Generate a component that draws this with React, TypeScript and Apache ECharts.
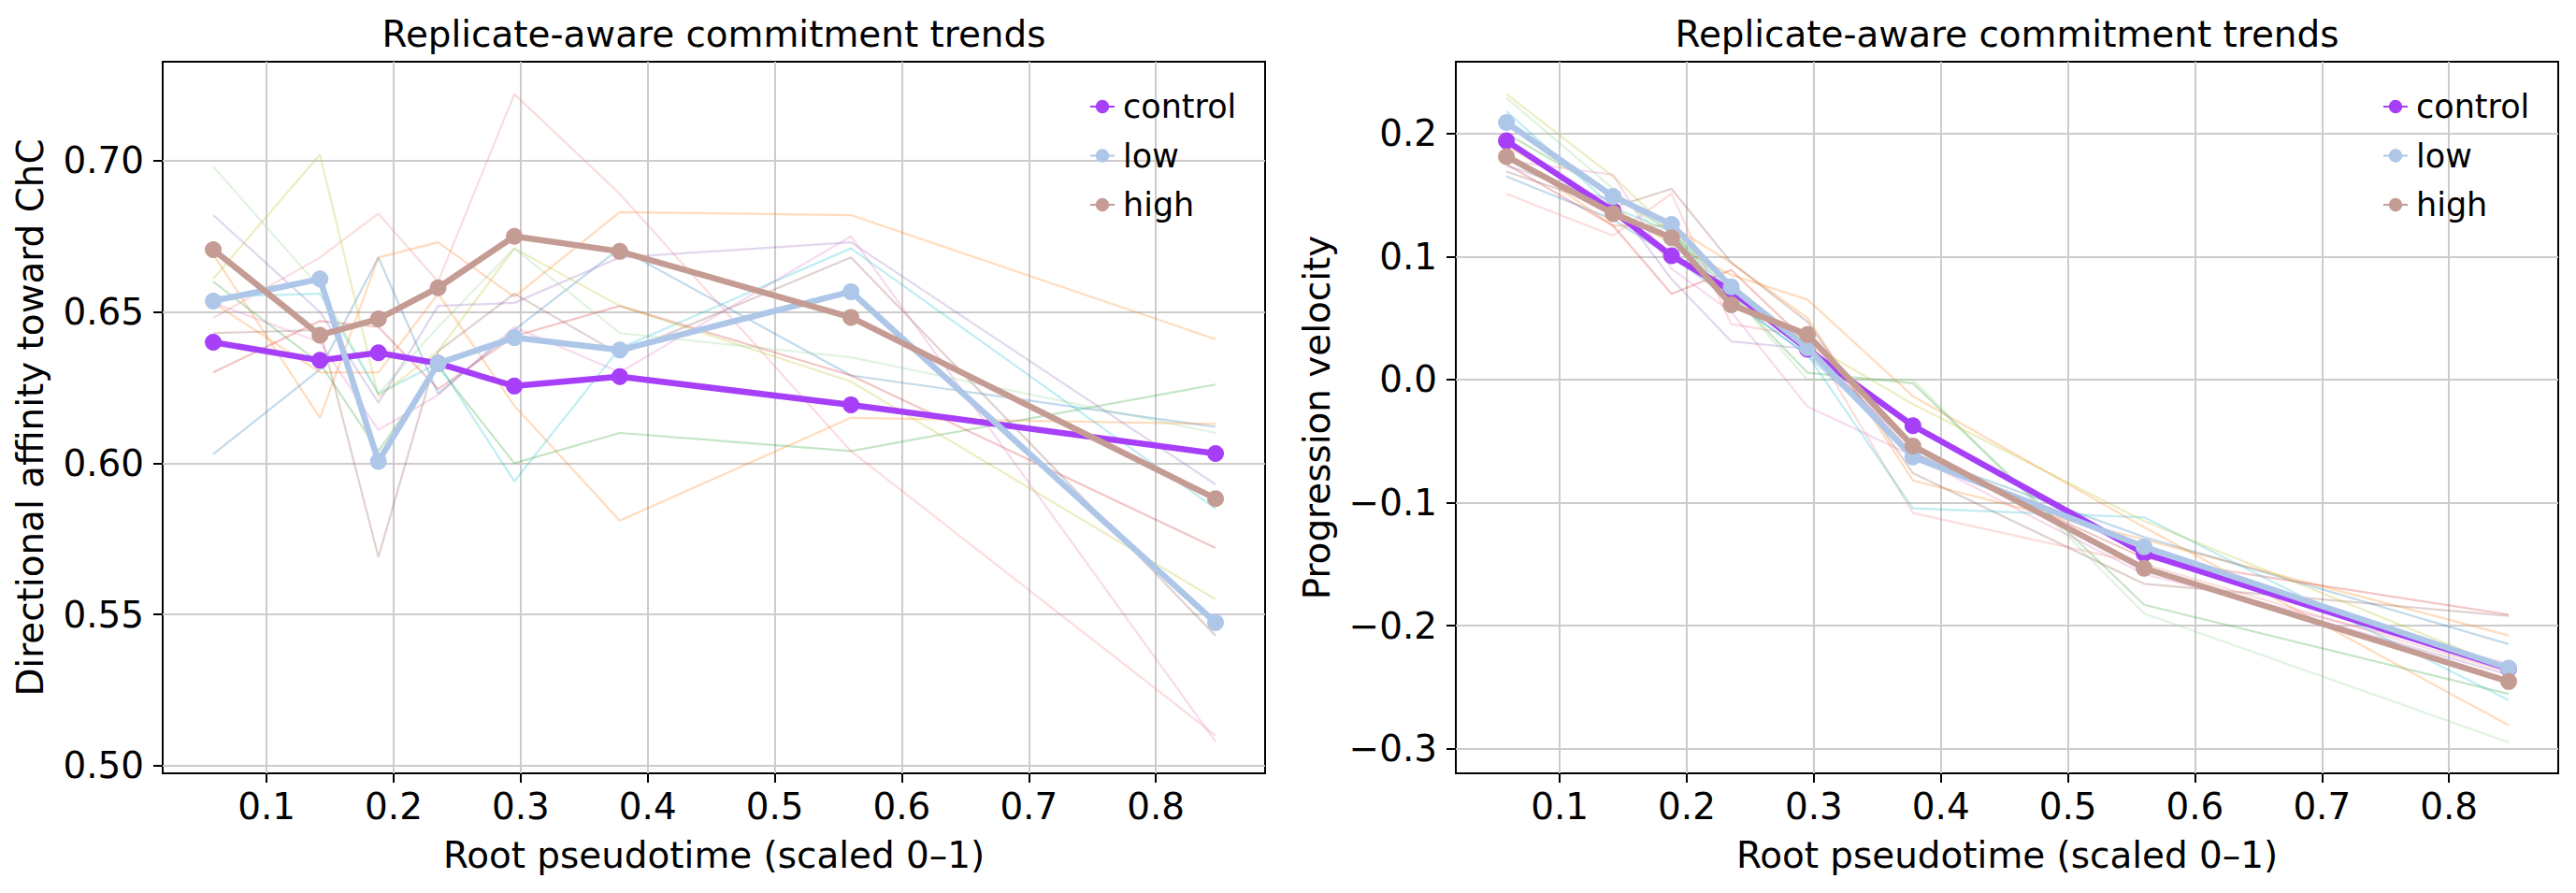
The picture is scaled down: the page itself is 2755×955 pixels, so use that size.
import React, { useEffect, useRef } from "react";
import * as echarts from "echarts";

// ---------- data ----------
const pseudotime = [0.058, 0.142, 0.188, 0.235, 0.295, 0.378, 0.56, 0.847];
const conditions = ["control", "low", "high"];
const conditionColors = ["#a63ff7", "#aec7e8", "#c49c94"];

// Directional affinity toward ChC (condition means)
const affinityControl = [0.64, 0.634, 0.6365, 0.633, 0.6255, 0.6286, 0.6193, 0.6032];
const affinityLow = [0.6536, 0.6609, 0.6006, 0.633, 0.6415, 0.6374, 0.6567, 0.5473];
const affinityHigh = [0.6706, 0.6423, 0.6477, 0.658, 0.675, 0.67, 0.6482, 0.5883];

// Progression velocity (condition means)
const velocityControl = [0.194, 0.137, 0.1006, 0.072, 0.0246, -0.0375, -0.1414, -0.235];
const velocityLow = [0.2089, 0.1488, 0.126, 0.0753, 0.0258, -0.0629, -0.1359, -0.2345];
const velocityHigh = [0.1812, 0.1349, 0.1153, 0.0608, 0.0365, -0.054, -0.1534, -0.2454];

// replicate traces (thin, faint)
const replicateColors = [
  "#1f77b4", "#ff7f0e", "#ff7f0e", "#2ca02c", "#d62728", "#9467bd",
  "#8c564b", "#e377c2", "#f08080", "#17becf", "#bcbd22", "#8fd18f",
];
const affinityReplicates = [
  [0.603, 0.631, 0.668, 0.623, 0.644, 0.671, 0.629, 0.612],
  [0.669, 0.615, 0.668, 0.673, 0.655, 0.683, 0.682, 0.641],
  [0.653, 0.63, 0.63, 0.656, 0.619, 0.581, 0.615, 0.613],
  [0.66, 0.633, 0.604, 0.632, 0.6, 0.61, 0.604, 0.626],
  [0.63, 0.647, 0.645, 0.6245, 0.642, 0.652, 0.629, 0.572],
  [0.682, 0.65, 0.62, 0.652, 0.653, 0.668, 0.673, 0.593],
  [0.643, 0.644, 0.569, 0.637, 0.656, 0.636, 0.668, 0.543],
  [0.653, 0.64, 0.611, 0.6225, 0.645, 0.63, 0.675, 0.508],
  [0.648, 0.668, 0.6825, 0.66, 0.722, 0.689, 0.604, 0.51],
  [0.655, 0.656, 0.623, 0.633, 0.594, 0.638, 0.671, 0.585],
  [0.661, 0.702, 0.622, 0.637, 0.671, 0.652, 0.627, 0.555],
  [0.698, 0.658, 0.623, 0.645, 0.671, 0.643, 0.635, 0.61],
];
const velocityReplicates = [
  [0.165, 0.13, 0.1, 0.065, 0.02, -0.06, -0.128, -0.215],
  [0.19, 0.14, 0.11, 0.085, 0.065, -0.0135, -0.12, -0.281],
  [0.185, 0.125, 0.125, 0.095, 0.05, -0.082, -0.13, -0.208],
  [0.2, 0.15, 0.12, 0.07, 0.0056, -0.003, -0.183, -0.2555],
  [0.175, 0.125, 0.0697, 0.089, 0.03, -0.06, -0.145, -0.191],
  [0.174, 0.145, 0.0816, 0.031, 0.025, -0.055, -0.155, -0.24],
  [0.169, 0.14, 0.155, 0.095, 0.047, -0.076, -0.166, -0.192],
  [0.178, 0.1665, 0.09, 0.055, -0.022, -0.062, -0.158, -0.231],
  [0.151, 0.117, 0.151, 0.045, 0.035, -0.1085, -0.15, -0.238],
  [0.218, 0.14, 0.12, 0.065, 0.02, -0.1047, -0.112, -0.2606],
  [0.232, 0.165, 0.12, 0.075, 0.03, -0.02, -0.115, -0.235],
  [0.229, 0.155, 0.11, 0.07, 0.0, 0.0, -0.19, -0.2948],
];

const xTicks = [0.1, 0.2, 0.3, 0.4, 0.5, 0.6, 0.7, 0.8];
const affinityTicks = [0.5, 0.55, 0.6, 0.65, 0.7];
const velocityTicks = [-0.3, -0.2, -0.1, 0.0, 0.1, 0.2];

const chartTitle = "Replicate-aware commitment trends";
const xName = "Root pseudotime (scaled 0–1)";
const yNameLeft = "Directional affinity toward ChC";
const yNameRight = "Progression velocity";

// ---------- layout ----------
const W = 2755;
const H = 955;
const FONT = "DejaVu Sans";
const FS = 38.9;
const gridTop = 66;
const gridH = 761;
const gridW = 1179;
const leftX = 174;
const rightX = 1557;

const pairs = (ys: number[]) => pseudotime.map((x, i) => [x, ys[i]]);
const minus = (s: string) => s.replace("-", "\u2212");

function makeXAxis(gridIndex: number) {
  return {
    type: "value",
    gridIndex,
    position: "bottom",
    min: 0.0182,
    max: 0.886,
    axisLine: { show: false, onZero: false },
    axisTick: {
      show: true,
      inside: false,
      length: 10,
      lineStyle: { color: "#000", width: 2 },
      customValues: xTicks,
    },
    axisLabel: {
      show: true,
      margin: 16,
      color: "#000",
      fontFamily: FONT,
      fontSize: FS,
      customValues: xTicks,
      formatter: (v: number) => v.toFixed(1),
    },
    splitLine: { show: true, lineStyle: { color: "#cccccc", width: 2 } },
  };
}

function makeYAxis(gridIndex: number, min: number, max: number, ticks: number[], digits: number) {
  return {
    type: "value",
    gridIndex,
    position: "left",
    min,
    max,
    axisLine: { show: false, onZero: false },
    axisTick: {
      show: true,
      inside: false,
      length: 10,
      lineStyle: { color: "#000", width: 2 },
      customValues: ticks,
    },
    axisLabel: {
      show: true,
      margin: 20,
      color: "#000",
      fontFamily: FONT,
      fontSize: FS,
      customValues: ticks,
      formatter: (v: number) => minus(v.toFixed(digits)),
    },
    splitLine: { show: true, lineStyle: { color: "#cccccc", width: 2 } },
  };
}

function replicateSeries(reps: number[][], axisIndex: number) {
  return reps.map((ys, i) => ({
    type: "line",
    name: "rep" + (i + 1) + "_" + axisIndex,
    xAxisIndex: axisIndex,
    yAxisIndex: axisIndex,
    data: pairs(ys),
    showSymbol: false,
    symbol: "none",
    silent: true,
    z: 2,
    lineStyle: { color: replicateColors[i], width: 2.2, opacity: 0.27 },
  }));
}

function meanSeries(means: number[][], axisIndex: number) {
  return means.map((ys, i) => ({
    type: "line",
    name: conditions[i],
    xAxisIndex: axisIndex,
    yAxisIndex: axisIndex,
    data: pairs(ys),
    symbol: "circle",
    symbolSize: 18,
    showSymbol: true,
    z: 5 + i,
    itemStyle: { color: conditionColors[i], borderWidth: 0 },
    lineStyle: { color: conditionColors[i], width: 6.5 },
  }));
}

function makeLegend(left: number) {
  return {
    show: true,
    orient: "vertical",
    left,
    top: 91,
    data: conditions,
    itemWidth: 26,
    itemHeight: 18,
    itemGap: 16.5,
    selectedMode: false,
    textStyle: { color: "#000", fontFamily: FONT, fontSize: 35, lineHeight: 36, padding: [0, 0, 0, 4] },
  };
}

function textEl(text: string, x: number, y: number, rotation = 0) {
  return {
    type: "text",
    x,
    y,
    rotation,
    silent: true,
    style: {
      text,
      fill: "#000",
      fontFamily: FONT,
      fontSize: FS,
      align: "center",
      verticalAlign: "middle",
    },
  };
}

export default function App() {
  const ref = useRef<HTMLDivElement>(null);

  useEffect(() => {
    if (!ref.current) return;
    const chart = echarts.init(ref.current, undefined, { renderer: "svg", width: W, height: H });
    const option = {
      animation: false,
      backgroundColor: "#ffffff",
      grid: [
        { left: leftX, top: gridTop, width: gridW, height: gridH, show: true, borderColor: "#000", borderWidth: 2, backgroundColor: "transparent", containLabel: false },
        { left: rightX, top: gridTop, width: gridW, height: gridH, show: true, borderColor: "#000", borderWidth: 2, backgroundColor: "transparent", containLabel: false },
      ],
      xAxis: [makeXAxis(0), makeXAxis(1)],
      yAxis: [
        makeYAxis(0, 0.4975, 0.7327, affinityTicks, 2),
        makeYAxis(1, -0.32, 0.2583, velocityTicks, 1),
      ],
      legend: [makeLegend(1160), makeLegend(2543)],
      series: [
        ...replicateSeries(affinityReplicates, 0),
        ...meanSeries([affinityControl, affinityLow, affinityHigh], 0),
        ...replicateSeries(velocityReplicates, 1),
        ...meanSeries([velocityControl, velocityLow, velocityHigh], 1),
      ],
      graphic: [
        textEl(chartTitle, leftX + gridW / 2, 36),
        textEl(chartTitle, rightX + gridW / 2, 36),
        textEl(xName, leftX + gridW / 2, 914),
        textEl(xName, rightX + gridW / 2, 914),
        textEl(yNameLeft, 32, gridTop + gridH / 2, Math.PI / 2),
        textEl(yNameRight, 1408, gridTop + gridH / 2, Math.PI / 2),
      ],
    };
    chart.setOption(option as any);
    return () => {
      chart.dispose();
    };
  }, []);

  return (
    <div
      ref={ref}
      style={{ position: "absolute", left: 0, top: 0, width: W, height: H, background: "#fff" }}
    />
  );
}
